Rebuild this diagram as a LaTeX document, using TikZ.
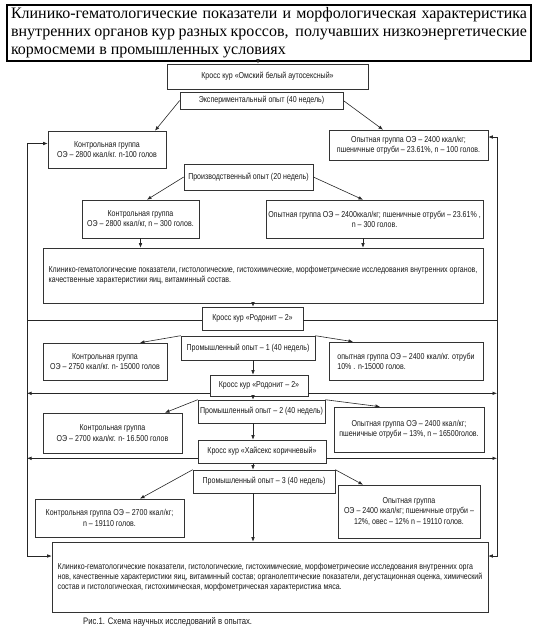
\documentclass[tikz,border=0pt]{standalone}
\usepackage{fontspec}
\setmainfont{Liberation Serif}
\newfontfamily\narrowsans[FakeStretch=0.82]{Liberation Sans}
\usetikzlibrary{arrows.meta,calc}
\tikzset{
  box/.style={draw=black!80, fill=white, line width=0.6pt, inner sep=1pt, align=center,
    font=\narrowsans\fontsize{8.6}{10.2}\selectfont, text=black!90},
  arr/.style={draw=black!85, line width=0.6pt, -{Latex[length=4.5pt,width=3.6pt]}},
  dbl/.style={draw=black!85, line width=0.6pt, {Latex[length=4.5pt,width=3.6pt]}-{Latex[length=4.5pt,width=3.6pt]}},
  ln/.style={draw=black!85, line width=0.6pt},
}
\newcommand\bx[7]{\node[box,minimum width={(#4)-(#2)},minimum height={(#5)-(#3)},#6] (#1) at ({((#2)+(#4))/2},{((#3)+(#5))/2}) {#7};}
\begin{document}
\begin{tikzpicture}[x=1pt,y=-1pt]
\useasboundingbox (0,0) rectangle (538,630);
\coordinate (cx) at (253,0);
\coordinate (lx) at (27,0);
\coordinate (rx) at (497,0);
\node[draw=black, line width=1.6pt, minimum width=524pt, minimum height=56pt, text width=516pt,
  align=justify, inner sep=3pt, font=\fontsize{16}{18}\selectfont] (title) at (269,33)
  {Клинико-гематологические показатели и морфологическая характеристика\linebreak
   внутренних органов кур разных кроссов,\ \ получавших низкоэнергетические\linebreak
   кормосмеми в промышленных условиях};
\bx{k0}{167}{64}{368}{89}{}{Кросс кур «Омский белый аутосексный»}
\bx{e1}{180}{92}{343}{109}{}{Экспериментальный опыт (40 недель)}
\bx{c1}{48}{131}{166}{168}{}{Контрольная группа\\ОЭ – 2800 ккал/кг. n-100 голов}
\bx{o1}{329}{130}{488}{160}{}{Опытная группа ОЭ – 2400 ккал/кг;\\пшеничные отруби – 23.61\%, n – 100 голов.}
\bx{p2}{184}{164}{313}{190}{}{Производственный опыт (20 недель)}
\bx{c2}{82}{200}{199}{238}{}{Контрольная группа\\ОЭ – 2800 ккал/кг, n – 300 голов.}
\bx{o2}{266}{200}{483}{238}{}{Опытная группа ОЭ – 2400ккал/кг; пшеничные отруби – 23.61\% ,\\n – 300 голов.}
\bx{r1}{43}{248}{483}{303}{align=left}{Клинико-гематологические показатели, гистологические, гистохимические, морфометрические исследования внутренних органов,\\качественные характеристики яиц, витаминный состав.}
\bx{k1}{202}{307}{303}{330}{}{Кросс кур «Родонит – 2»}
\bx{m1}{181}{336}{315}{360}{}{Промышленный опыт – 1 (40 недель)}
\bx{c3}{43}{343}{167}{380}{}{Контрольная группа\\ОЭ – 2750 ккал/кг. n- 15000 голов}
\bx{o3}{329}{342}{483}{380}{align=left}{опытная группа ОЭ – 2400 ккал/кг. отруби\\10\% . n-15000 голов.}
\bx{k2}{210}{375}{308}{396}{}{Кросс кур «Родонит – 2»}
\bx{m2}{198}{400}{325}{423}{}{Промышленный опыт – 2 (40 недель)}
\bx{c4}{43}{413}{182}{453}{}{Контрольная группа\\ОЭ – 2700 ккал/кг. n- 16.500 голов}
\bx{o4}{334}{407}{484}{452}{}{Опытная группа ОЭ – 2400 ккал/кг;\\пшеничные отруби – 13\%, n – 16500голов.}
\bx{k3}{198}{440}{326}{463}{}{Кросс кур «Хайсекс коричневый»}
\bx{m3}{193}{470}{335}{493}{}{Промышленный опыт – 3 (40 недель)}
\bx{c5}{35}{499}{184}{537}{}{Контрольная группа ОЭ – 2700 ккал/кг;\\n – 19110 голов.}
\bx{o5}{338}{485}{480}{538}{}{Опытная группа\\ОЭ – 2400 ккал/кг; пшеничные отруби –\\12\%, овес – 12\% n – 19110 голов.}
\bx{r2}{52}{542}{488}{612}{align=left}{Клинико-гематологические показатели, гистологические, гистохимические, морфометрические исследования внутренних орга\\нов, качественные характеристики яиц, витаминный состав; органолептические показатели, дегустационная оценка, химический\\состав и гистологическая, гистохимическая, морфометрическая характеристика мяса.}
\node[anchor=west, inner sep=0pt, font=\narrowsans\fontsize{9.4}{11}\selectfont, text=black!90] (cap) at (83,622) {Рис.1. Схема научных исследований в опытах.};
% rails
\draw[dbl] ([yshift=6pt]c1.west) -- ([yshift=6pt]c1.west -| lx) -- ([yshift=21pt]r2.west -| lx) -- ([yshift=21pt]r2.west);
\draw[dbl] ([yshift=8pt]o1.east) -- ([yshift=8pt]o1.east -| rx) -- ([yshift=21pt]r2.east -| rx) -- ([yshift=21pt]r2.east);
% horizontal lines
\draw[ln] ([yshift=-2pt]k1.west) -- ([yshift=-2pt]k1.west -| lx);
\draw[ln] ([yshift=-2pt]k1.east) -- ([yshift=-2pt]k1.east -| rx);
\draw[arr] ([yshift=3pt]k2.south west) -- ([yshift=3pt]k2.south west -| lx);
\draw[arr] ([yshift=3pt]k2.south east) -- ([yshift=3pt]k2.south east -| rx);
\draw[arr] ([yshift=5pt]k3.south west) -- ([yshift=5pt]k3.south west -| lx);
\draw[arr] ([yshift=5pt]k3.south east) -- ([yshift=5pt]k3.south east -| rx);
% vertical arrows
\draw[arr] ([xshift=-11pt]title.south) -- ([xshift=-11pt]title.south |- k0.north);
\draw[arr] (r1.south -| cx) -- (k1.north -| cx);
\draw[arr] (m1.south -| cx) -- (k2.north -| cx);
\draw[arr] (k2.south -| cx) -- (m2.north -| cx);
\draw[arr] (m2.south -| cx) -- (k3.north -| cx);
\draw[arr] (k3.south -| cx) -- (m3.north -| cx);
\draw[arr] (m3.south -| cx) -- (r2.north -| cx);
\draw[arr] (c2.south) -- (c2.south |- r1.north);
\draw[arr] ([xshift=-11.5pt]o2.south) -- ([xshift=-11.5pt]o2.south |- r1.north);
% diagonal arrows
\draw[arr] (e1.west) -- ([xshift=48pt]c1.north);
\draw[arr] (e1.east) -- ([xshift=-25.5pt]o1.north);
\draw[arr] (p2.west) -- ([xshift=6.5pt]c2.north);
\draw[arr] (p2.east) -- ([xshift=-11.5pt]o2.north);
\draw[arr] (m1.north west) -- ([xshift=35pt]c3.north);
\draw[arr] (m1.north east) -- ([xshift=-53pt]o3.north);
\draw[arr] (m2.north west) -- ([xshift=52.5pt]c4.north);
\draw[arr] (m2.north east) -- ([xshift=-29pt]o4.north);
\draw[arr] (m3.north west) -- ([xshift=30.5pt]c5.north);
\draw[arr] (m3.north east) -- ([xshift=-46pt]o5.north);
\end{tikzpicture}
\end{document}
